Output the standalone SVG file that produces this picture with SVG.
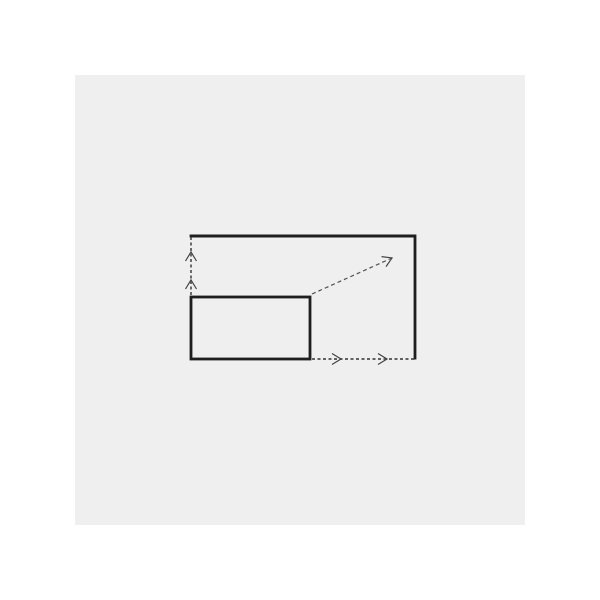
<svg xmlns="http://www.w3.org/2000/svg" width="600" height="600" viewBox="0 0 600 600">
<defs>
<marker id="chev" viewBox="-11 -7 13 14" markerWidth="13" markerHeight="14" markerUnits="userSpaceOnUse" refX="0" refY="0" orient="auto">
<path d="M-9,-5.5 L0,0 L-9,5.5" fill="none" stroke="#444" stroke-width="1.2"/>
</marker>
</defs>
<style>
.solid{fill:none;stroke:#1e1e1e;stroke-width:2.8;stroke-linecap:square}
.dash{fill:none;stroke:#333;stroke-width:1.4;stroke-dasharray:3 2.5}
.dashd{fill:none;stroke:#555;stroke-width:1.2;stroke-dasharray:4 3}
</style>
<rect x="0" y="0" width="600" height="600" fill="#ffffff"/>
<rect x="75" y="75" width="450" height="450" fill="#efefef"/>
<g id="outer">
<path class="solid" d="M191,236 L415,236 L415,358"/>
</g>
<g id="inner">
<rect class="solid" x="191" y="297" width="119" height="62"/>
</g>
<g id="connectors">
<polyline class="dash" points="191,295 191,280 191,252 191,237" marker-mid="url(#chev)"/>
<polyline class="dash" points="312,359 341,359 387,359 414,359" marker-mid="url(#chev)"/>
<path class="dashd" d="M312,294 L392,258" marker-end="url(#chev)"/>
</g>
</svg>
